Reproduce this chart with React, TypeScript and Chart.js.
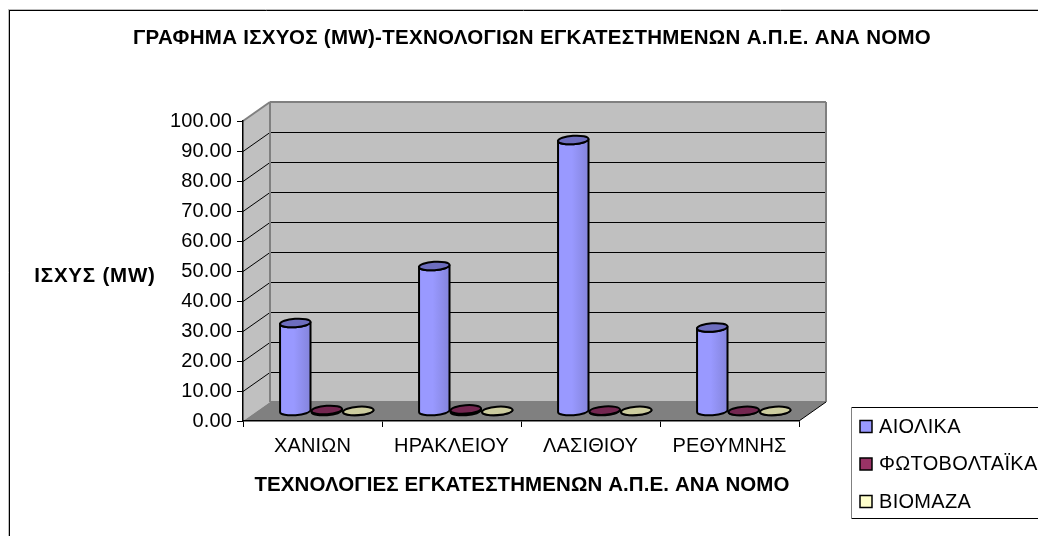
import React, { useEffect, useRef } from "react";
import { Chart, registerables } from "chart.js";

Chart.register(...registerables);

const categories = ["ΧΑΝΙΩΝ", "ΗΡΑΚΛΕΙΟΥ", "ΛΑΣΙΘΙΟΥ", "ΡΕΘΥΜΝΗΣ"];
const aiolika = [29.5, 48.5, 90.5, 28];
const fotovoltaika = [0.5, 0.7, 0.3, 0.2];
const viomaza = [0.2, 0.2, 0.2, 0.2];
const seriesNames = ["ΑΙΟΛΙΚΑ", "ΦΩΤΟΒΟΛΤΑΪΚΑ", "ΒΙΟΜΑΖΑ"];
const tickValues = ["0.00", "10.00", "20.00", "30.00", "40.00", "50.00", "60.00", "70.00", "80.00", "90.00", "100.00"];
const chartTitle = "ΓΡΑΦΗΜΑ ΙΣΧΥΟΣ (MW)-ΤΕΧΝΟΛΟΓΙΩΝ ΕΓΚΑΤΕΣΤΗΜΕΝΩΝ Α.Π.Ε. ΑΝΑ ΝΟΜΟ";
const yTitle = "ΙΣΧΥΣ (MW)";
const xTitle = "ΤΕΧΝΟΛΟΓΙΕΣ ΕΓΚΑΤΕΣΤΗΜΕΝΩΝ Α.Π.Ε. ΑΝΑ ΝΟΜΟ";

const FONT = '"Liberation Sans", Arial, sans-serif';
const bodyColors = ["#9999FF", "#993366", "#FFFFCC"];
const bodyDark = ["#8484DC", "#7F2A55", "#DDDDB0"];
const topColors = ["#6D6DBE", "#732650", "#CCCC9E"];
const DX = 27;
const DY = -19;

function line(ctx: CanvasRenderingContext2D, x1: number, y1: number, x2: number, y2: number) {
  ctx.beginPath();
  ctx.moveTo(x1, y1);
  ctx.lineTo(x2, y2);
  ctx.stroke();
}

function poly(ctx: CanvasRenderingContext2D, pts: number[][], fill: string) {
  ctx.beginPath();
  pts.forEach((p, i) => (i ? ctx.lineTo(p[0], p[1]) : ctx.moveTo(p[0], p[1])));
  ctx.closePath();
  ctx.fillStyle = fill;
  ctx.fill();
}

const scenePlugin = {
  id: "scene3d",
  beforeDraw(chart: any) {
    const { ctx, chartArea: a, scales } = chart;
    ctx.save();
    // page frame
    ctx.strokeStyle = "#BDBDBD";
    ctx.lineWidth = 1;
    line(ctx, 8.5, 9, 8.5, 536);
    line(ctx, 8, 9.5, 1038, 9.5);
    ctx.strokeStyle = "#000";
    line(ctx, 9.5, 10, 9.5, 536);
    line(ctx, 9, 10.5, 1038, 10.5);

    // side wall, back wall, floor
    poly(ctx, [[a.left, a.top], [a.left + DX, a.top + DY], [a.left + DX, a.bottom + DY], [a.left, a.bottom]], "#C0C0C0");
    poly(ctx, [[a.left + DX, a.top + DY], [a.right + DX, a.top + DY], [a.right + DX, a.bottom + DY], [a.left + DX, a.bottom + DY]], "#C0C0C0");
    poly(ctx, [[a.left, a.bottom], [a.left + DX, a.bottom + DY], [a.right + DX, a.bottom + DY], [a.right, a.bottom]], "#808080");

    // grid lines follow the y scale
    ctx.strokeStyle = "#000";
    ctx.lineWidth = 1;
    scales.y.ticks.forEach((t: any, i: number) => {
      if (i === 0 || i === scales.y.ticks.length - 1) return;
      const y = Math.round(scales.y.getPixelForValue(t.value)) + 0.5;
      line(ctx, a.left, y, a.left + DX, y + DY);
      line(ctx, a.left + DX, y + DY, a.right + DX, y + DY);
    });

    // wall edges
    ctx.strokeStyle = "#808080";
    ctx.lineWidth = 2;
    line(ctx, a.left, a.top, a.left + DX, a.top + DY);
    line(ctx, a.left + DX, a.top + DY, a.right + DX, a.top + DY);
    line(ctx, a.right + DX, a.top + DY, a.right + DX, a.bottom + DY);
    line(ctx, a.left + DX, a.top + DY, a.left + DX, a.bottom + DY);
    line(ctx, a.left + DX, a.bottom + DY, a.right + DX, a.bottom + DY);
    ctx.lineWidth = 1;
    ctx.strokeStyle = "#000";
    line(ctx, a.right, a.bottom, a.right + DX, a.bottom + DY);
    ctx.restore();
    ctx.letterSpacing = "0.15px";
  },
  afterDatasetsDraw(chart: any) {
    const { ctx } = chart;
    ctx.save();
    chart.data.datasets.forEach((_: any, di: number) => {
      chart.getDatasetMeta(di).data.forEach((bar: any) => {
        const p = bar.getProps(["x", "y", "base", "width"], true);
        const cx = p.x + DX / 2 + 0.8;
        const top = p.y + DY / 2;
        const bottom = p.base + DY / 2;
        const rx = p.width / 2 - 0.5;
        const ry = 4.2;
        const tilt = -0.07;
        const g = ctx.createLinearGradient(cx - rx, 0, cx + rx, 0);
        g.addColorStop(0, bodyColors[di]);
        g.addColorStop(0.45, bodyColors[di]);
        g.addColorStop(1, bodyDark[di]);
        ctx.beginPath();
        ctx.ellipse(cx, bottom, rx, ry, tilt, 0, Math.PI);
        ctx.lineTo(cx - rx, top);
        ctx.ellipse(cx, top, rx, ry, tilt, Math.PI, 0, true);
        ctx.closePath();
        ctx.fillStyle = g;
        ctx.fill();
        ctx.strokeStyle = "#000";
        ctx.lineWidth = 2;
        ctx.stroke();
        ctx.beginPath();
        ctx.ellipse(cx, top, rx, ry, tilt, 0, Math.PI * 2);
        ctx.fillStyle = topColors[di];
        ctx.fill();
        ctx.stroke();
      });
    });
    ctx.restore();
  },
  afterDraw(chart: any) {
    const { ctx } = chart;
    ctx.save();
    ctx.fillStyle = "#000";
    ctx.textBaseline = "middle";
    ctx.textAlign = "center";
    ctx.font = `bold 20.5px ${FONT}`;
    ctx.letterSpacing = "0.3px";
    ctx.fillText(chartTitle, 532, 38);
    ctx.letterSpacing = "0.1px";
    ctx.fillText(xTitle, 522, 485);
    ctx.letterSpacing = "0.8px";
    ctx.fillText(yTitle, 95, 276);

    // legend box
    ctx.strokeStyle = "#808080";
    ctx.lineWidth = 1;
    line(ctx, 851.5, 407, 851.5, 519);
    ctx.strokeStyle = "#000";
    line(ctx, 852, 407.5, 1038, 407.5);
    line(ctx, 852, 518.5, 1038, 518.5);
    const rowY = [426.5, 464, 501.5];
    ctx.font = `20px ${FONT}`;
    ctx.letterSpacing = "0.3px";
    ctx.textAlign = "left";
    chart.data.datasets.forEach((ds: any, i: number) => {
      ctx.fillStyle = bodyColors[i];
      ctx.fillRect(860, rowY[i] - 6, 12, 12);
      ctx.strokeStyle = "#000";
      ctx.lineWidth = 1.5;
      ctx.strokeRect(860, rowY[i] - 6, 12, 12);
      ctx.fillStyle = "#000";
      ctx.fillText(ds.label, 879, rowY[i] + 0.5);
    });
    ctx.restore();
    ctx.letterSpacing = "0px";
  },
};

export default function App() {
  const ref = useRef<HTMLCanvasElement>(null);
  useEffect(() => {
    const chart = new Chart(ref.current as HTMLCanvasElement, {
      type: "bar",
      data: {
        labels: categories,
        datasets: [aiolika, fotovoltaika, viomaza].map((data, i) => ({
          label: seriesNames[i],
          data,
          backgroundColor: "rgba(0,0,0,0)",
          borderWidth: 0,
          barPercentage: 1,
          categoryPercentage: 0.68,
        })),
      },
      options: {
        responsive: false,
        animation: false,
        layout: { padding: { left: 150, top: 121, right: 239, bottom: 0 } },
        plugins: {
          legend: { display: false },
          title: { display: false },
          tooltip: { enabled: false },
        },
        scales: {
          x: {
            afterFit(s: any) {
              s.height = 115;
            },
            grid: { drawOnChartArea: false, color: "#000", tickLength: 6, tickColor: "#000", offset: true },
            border: { color: "#000", width: 1.5 },
            ticks: { color: "#000", font: { family: FONT, size: 20 }, padding: 7, maxRotation: 0 },
          },
          y: {
            min: 0,
            max: 100,
            afterFit(s: any) {
              s.width = 93;
            },
            grid: { drawOnChartArea: false, color: "#000", tickLength: 6, tickColor: "#000" },
            border: { color: "#000", width: 1.5 },
            ticks: {
              color: "#000",
              stepSize: 10,
              padding: 5,
              font: { family: FONT, size: 20 },
              callback: (_v: any, i: number) => tickValues[i],
            },
          },
        },
      } as any,
      plugins: [scenePlugin],
    });
    return () => chart.destroy();
  }, []);
  return (
    <div style={{ position: "fixed", left: 0, top: 0, width: 1038, height: 536, background: "#fff", overflow: "hidden" }}>
      <canvas ref={ref} width={1038} height={536} style={{ display: "block" }} />
    </div>
  );
}
